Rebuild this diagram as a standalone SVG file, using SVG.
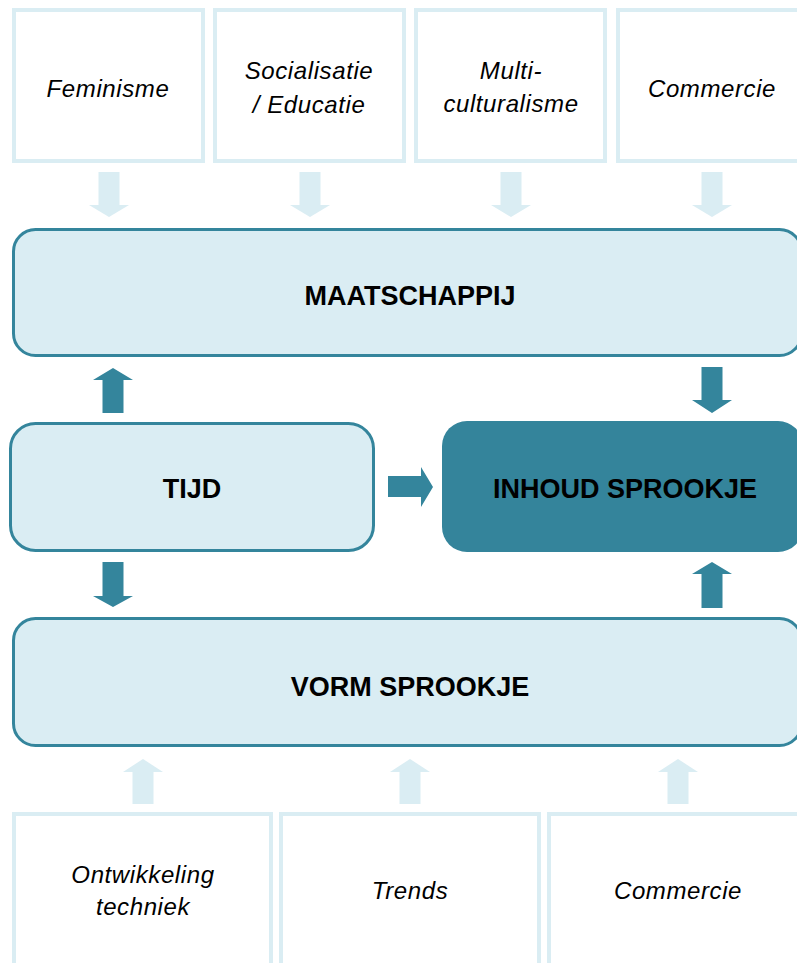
<svg xmlns="http://www.w3.org/2000/svg" width="797" height="963" viewBox="0 0 797 963">
<style>
.src{fill:#FFFFFF;stroke:#DAEDF3;stroke-width:4}
.main{fill:#DAEDF3;stroke:#34859C;stroke-width:3}
.dark{fill:#34849B;stroke:none}
.la{fill:#DAEDF3;stroke:none}
.da{fill:#34859C;stroke:none}
.it{font-family:"Liberation Sans",Arial,sans-serif;font-style:italic;font-size:24px;letter-spacing:0.6px;fill:#000;text-anchor:middle}
.bd{font-family:"Liberation Sans",Arial,sans-serif;font-weight:bold;font-size:27px;fill:#000;text-anchor:middle}
</style>
<rect width="797" height="963" fill="#FFFFFF"/>
<g id="feminisme"><rect class="src" x="14" y="10" width="189" height="151"/><text class="it" x="108" y="97">Feminisme</text></g>
<g id="socialisatie"><rect class="src" x="215" y="10" width="189" height="151"/><text class="it" x="309" y="79">Socialisatie</text><text class="it" x="309" y="113">/ Educatie</text></g>
<g id="multiculturalisme"><rect class="src" x="416" y="10" width="189" height="151"/><text class="it" x="511" y="79">Multi-</text><text class="it" x="511" y="112">culturalisme</text></g>
<g id="commercie-top"><rect class="src" x="618" y="10" width="189" height="151"/><text class="it" x="712" y="97">Commercie</text></g>
<g id="maatschappij"><rect class="main" x="13.5" y="229.5" width="788" height="126" rx="22"/><text class="bd" x="410" y="305">MAATSCHAPPIJ</text></g>
<g id="tijd"><rect class="main" x="10.5" y="423.5" width="363" height="127" rx="25"/><text class="bd" x="192" y="498">TIJD</text></g>
<g id="inhoud"><rect class="dark" x="442" y="421" width="361" height="131" rx="25"/><text class="bd" x="625" y="498">INHOUD SPROOKJE</text></g>
<g id="vorm"><rect class="main" x="13.5" y="618.5" width="788" height="127" rx="22"/><text class="bd" x="410" y="696">VORM SPROOKJE</text></g>
<g id="ontwikkeling"><rect class="src" x="14" y="814" width="257" height="160"/><text class="it" x="143" y="883">Ontwikkeling</text><text class="it" x="143" y="915">techniek</text></g>
<g id="trends"><rect class="src" x="281" y="814" width="258" height="160"/><text class="it" x="410" y="899">Trends</text></g>
<g id="commercie-bottom"><rect class="src" x="549" y="814" width="258" height="160"/><text class="it" x="678" y="899">Commercie</text></g>
<g id="connectors">
<polygon class="la" points="98.5,172 119.5,172 119.5,205 129,205 109,217 89,205 98.5,205"/>
<polygon class="la" points="299.5,172 320.5,172 320.5,205 330,205 310,217 290,205 299.5,205"/>
<polygon class="la" points="500.5,172 521.5,172 521.5,205 531,205 511,217 491,205 500.5,205"/>
<polygon class="la" points="701.5,172 722.5,172 722.5,205 732,205 712,217 692,205 701.5,205"/>
<polygon class="da" points="102.5,413 123.5,413 123.5,380 133,380 113,368 93,380 102.5,380"/>
<polygon class="da" points="102.5,562 123.5,562 123.5,596 133,596 113,607 93,596 102.5,596"/>
<polygon class="da" points="388,476 421,476 421,467 433,487 421,507 421,497 388,497"/>
<polygon class="da" points="701.5,367 722.5,367 722.5,400 732,400 712,413 692,400 701.5,400"/>
<polygon class="da" points="701.5,608 722.5,608 722.5,574 732,574 712,562 692,574 701.5,574"/>
<polygon class="la" points="132.5,804 153.5,804 153.5,772 163,772 143,759 123,772 132.5,772"/>
<polygon class="la" points="399.5,804 420.5,804 420.5,772 430,772 410,759 390,772 399.5,772"/>
<polygon class="la" points="667.5,804 688.5,804 688.5,772 698,772 678,759 658,772 667.5,772"/>
</g>
</svg>
